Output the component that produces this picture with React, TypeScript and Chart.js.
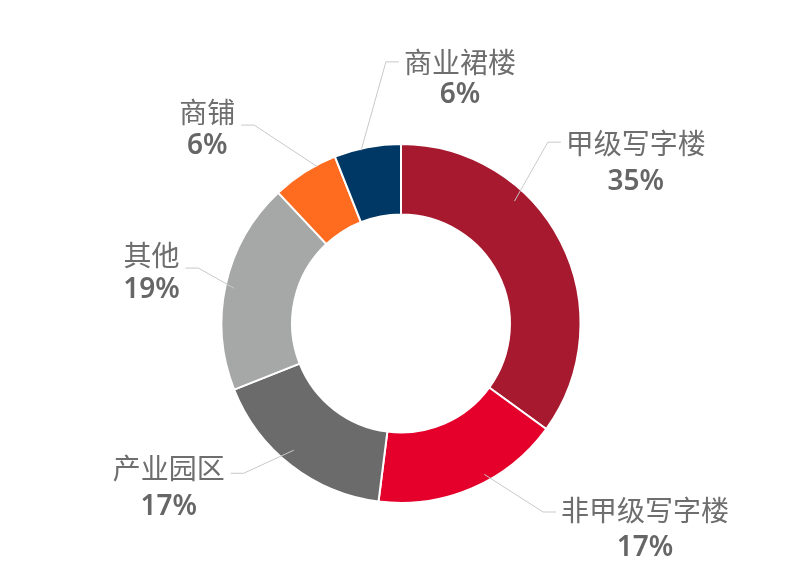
import React, { useEffect, useRef } from 'react';
import { Chart, registerables } from 'chart.js';

Chart.register(...registerables);

const categories = ['甲级写字楼', '非甲级写字楼', '产业园区', '其他', '商铺', '商业裙楼'];
const shares = [35, 17, 17, 19, 6, 6];
const sliceColors = ['#A6192E', '#E4002B', '#6A6B6A', '#A6A8A7', '#FF6B1F', '#003865'];

// Leader-line layout (annotation placement only)
// t: fraction along the slice where the leader starts; rs: start radius ratio
// ea: elbow angle (deg clockwise from 12 o'clock); er: elbow radius ratio
// side: text direction; dy: name offset from elbow; gap: name-to-percent spacing
const labelLayout = [
  { t: 0.34, rs: 0.93, ea: 39, er: 1.30, side: 1, dy: 1, gap: 39 },
  { t: 0.41, rs: 0.96, ea: 143, er: 1.315, side: 1, dy: -2, gap: 38 },
  { t: 0.54, rs: 0.925, ea: 226.4, er: 1.21, side: -1, dy: -5, gap: 39 },
  { t: 0.49, rs: 0.95, ea: 285.3, er: 1.17, side: -1, dy: -13, gap: 35 },
  { t: 0.70, rs: 0.99, ea: 323.5, er: 1.375, side: -1, dy: -13, gap: 34 },
  { t: 0.40, rs: 0.99, ea: 356.7, er: 1.46, side: 1, dy: 0, gap: 33 },
];

const leaderPlugin = {
  id: 'leaderLabels',
  afterDatasetsDraw(chart: any) {
    const ctx = chart.ctx as CanvasRenderingContext2D;
    const meta = chart.getDatasetMeta(0);
    meta.data.forEach((arc: any, i: number) => {
      const lay = labelLayout[i];
      if (!lay) return;
      const { x, y, startAngle, endAngle, outerRadius } = arc.getProps(
        ['x', 'y', 'startAngle', 'endAngle', 'outerRadius'],
        true
      );
      const R = outerRadius;
      const a = startAngle + lay.t * (endAngle - startAngle);
      const sx = x + Math.cos(a) * R * lay.rs;
      const sy = y + Math.sin(a) * R * lay.rs;
      const ea = (lay.ea * Math.PI) / 180 - Math.PI / 2;
      const ex = x + Math.cos(ea) * R * lay.er;
      const ey = y + Math.sin(ea) * R * lay.er;
      const hx = ex + lay.side * 13;

      ctx.save();
      ctx.strokeStyle = '#C9C9C9';
      ctx.lineWidth = 1;
      ctx.beginPath();
      ctx.moveTo(sx, sy);
      ctx.lineTo(ex, ey);
      ctx.lineTo(hx, ey);
      ctx.stroke();

      const name = categories[i];
      const pct = shares[i] + '%';
      ctx.font = '400 28px "Noto Sans CJK SC", "Noto Sans", sans-serif';
      const w = ctx.measureText(name).width;
      const cx = lay.side > 0 ? hx + 5 + w / 2 : hx - 6 - w / 2;
      ctx.textAlign = 'center';
      ctx.textBaseline = 'middle';
      ctx.fillStyle = '#6E6E6E';
      ctx.fillText(name, cx, ey + lay.dy);
      ctx.font = '600 28px "Noto Sans", "Open Sans", sans-serif';
      ctx.fillStyle = '#666666';
      ctx.fillText(pct, cx, ey + lay.dy + lay.gap);
      ctx.restore();
    });
  },
};

export default function App() {
  const ref = useRef<HTMLCanvasElement | null>(null);

  useEffect(() => {
    if (!ref.current) return;
    const chart = new Chart(ref.current, {
      type: 'doughnut',
      data: {
        labels: categories,
        datasets: [
          {
            data: shares,
            backgroundColor: sliceColors,
            borderColor: '#FFFFFF',
            borderWidth: 2,
            hoverOffset: 0,
          },
        ],
      },
      options: {
        responsive: false,
        animation: false,
        events: [],
        cutout: '60.7%',
        layout: { padding: { top: 143, bottom: 78, left: 220.5, right: 218.5 } },
        plugins: {
          legend: { display: false },
          tooltip: { enabled: false },
        },
      },
      plugins: [leaderPlugin],
    });
    return () => chart.destroy();
  }, []);

  return (
    <div style={{ position: 'fixed', left: 0, top: 0, width: 800, height: 582, background: '#FFFFFF' }}>
      <canvas ref={ref} width={800} height={582} style={{ width: 800, height: 582, display: 'block' }} />
    </div>
  );
}
